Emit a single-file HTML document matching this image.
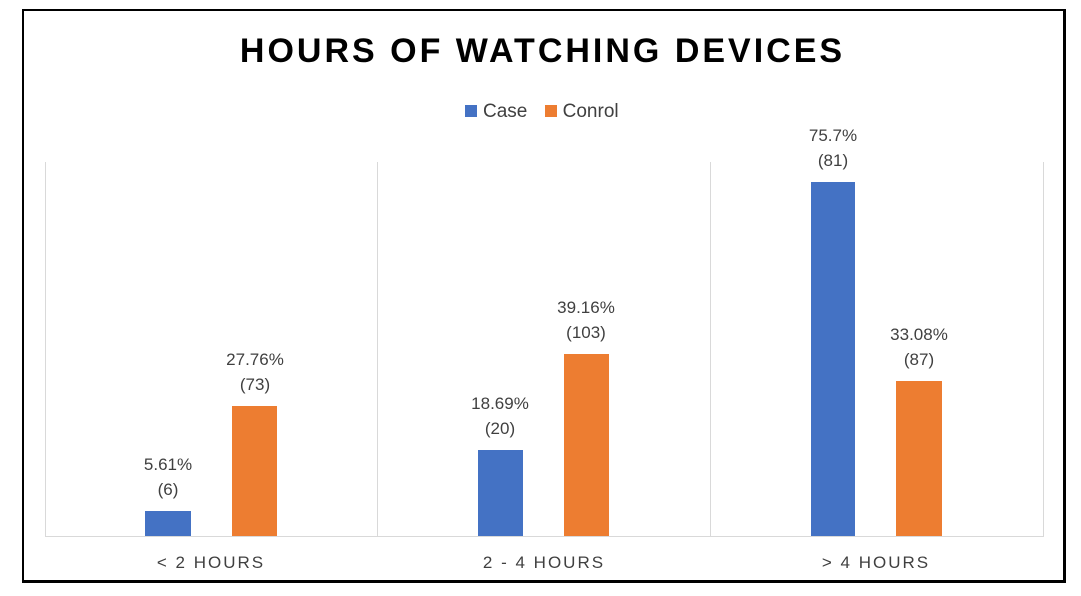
<!DOCTYPE html>
<html><head><style>
body{margin:0;background:#fff;width:1081px;height:596px;overflow:hidden;position:relative;font-family:"Liberation Sans",sans-serif}
.frame{position:absolute;left:22px;top:9px;width:1039px;height:569px;border:2px solid #000;border-right-width:3px;border-bottom-width:3px}
.g{position:absolute;top:162px;height:374px;width:1px;background:#d9d9d9}
.bar{position:absolute}
.b{background:#4472c4}.o{background:#ed7d31}
.lab{position:absolute;width:100px;text-align:center;font-size:17px;color:#404040;line-height:25px}
.cat{position:absolute;top:553px;width:200px;text-align:center;font-size:17px;letter-spacing:2px;color:#404040}
</style></head><body>
<div class="frame"></div>
<div style="position:absolute;left:0;width:1085px;top:32px;text-align:center;font-size:34px;font-weight:bold;letter-spacing:3px;color:#000">HOURS OF WATCHING DEVICES</div>
<div style="position:absolute;top:101px;left:465px;font-size:19px;color:#404040">
<span style="display:inline-block;width:12px;height:12px;background:#4472c4;margin-right:6px"></span>Case
<span style="display:inline-block;width:12px;height:12px;background:#ed7d31;margin:0 6px 0 12px"></span>Conrol</div>
<div class="g" style="left:45px"></div><div class="g" style="left:377px"></div><div class="g" style="left:710px"></div><div class="g" style="left:1043px"></div>
<div style="position:absolute;left:45px;top:536px;width:999px;height:1px;background:#d9d9d9"></div>
<div class="bar b" style="left:145px;width:46px;top:511px;height:25px"></div>
<div class="bar o" style="left:232px;width:45px;top:406px;height:130px"></div>
<div class="bar b" style="left:478px;width:45px;top:450px;height:86px"></div>
<div class="bar o" style="left:564px;width:45px;top:354px;height:182px"></div>
<div class="bar b" style="left:811px;width:44px;top:182px;height:354px"></div>
<div class="bar o" style="left:896px;width:46px;top:381px;height:155px"></div>
<div class="lab" style="left:118px;top:452px">5.61%<br>(6)</div>
<div class="lab" style="left:205px;top:347px">27.76%<br>(73)</div>
<div class="lab" style="left:450px;top:391px">18.69%<br>(20)</div>
<div class="lab" style="left:536px;top:295px">39.16%<br>(103)</div>
<div class="lab" style="left:783px;top:123px">75.7%<br>(81)</div>
<div class="lab" style="left:869px;top:322px">33.08%<br>(87)</div>
<div class="cat" style="left:111px">&lt; 2 HOURS</div>
<div class="cat" style="left:444px">2 - 4 HOURS</div>
<div class="cat" style="left:776px">&gt; 4 HOURS</div>
</body></html>
